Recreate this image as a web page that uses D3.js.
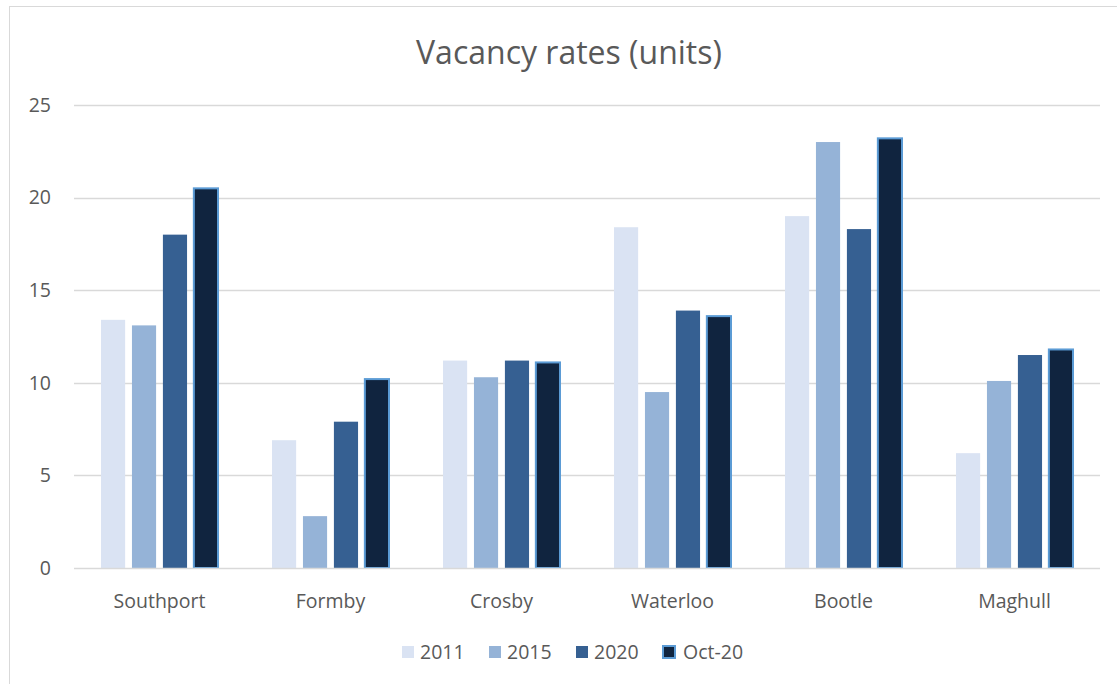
<!DOCTYPE html>
<html>
<head>
<meta charset="utf-8">
<script src="https://cdn.jsdelivr.net/npm/d3@7"></script>
<style>
  body { margin: 0; background: #fff; }
  svg { display: block; font-family: "Open Sans", "Noto Sans", sans-serif; }
</style>
</head>
<body>
<svg id="chart" width="1117" height="684"></svg>
<script>
// data
var towns = ["Southport", "Formby", "Crosby", "Waterloo", "Bootle", "Maghull"];
var seriesNames = ["2011", "2015", "2020", "Oct-20"];
var v2011 = [13.4, 6.9, 11.2, 18.4, 19.0, 6.2];
var v2015 = [13.1, 2.8, 10.3, 9.5, 23.0, 10.1];
var v2020 = [18.0, 7.9, 11.2, 13.9, 18.3, 11.5];
var vOct20 = [20.5, 10.2, 11.1, 13.6, 23.2, 11.8];
var yTicks = [0, 5, 10, 15, 20, 25];

var fills = ["#dae3f3", "#95b3d7", "#366092", "#10243f"];
var strokes = ["none", "none", "none", "#5b9bd5"];

var allSeries = [v2011, v2015, v2020, vOct20];

var svg = d3.select("#chart");
var textCol = "#595959";

// chart frame
svg.append("rect")
    .attr("x", 9.5).attr("y", 6.5)
    .attr("width", 1130).attr("height", 700)
    .attr("fill", "none")
    .attr("stroke", "#d9d9d9");

var plotL = 74, plotR = 1100, plotT = 105, plotB = 568;

var x = d3.scaleBand().domain(towns).range([plotL, plotR]).paddingInner(0).paddingOuter(0);
var xi = d3.scaleBand().domain(seriesNames).range([27, x.bandwidth() - 27]).paddingInner(0.22);
var y = d3.scaleLinear().domain([0, 25]).range([plotB, plotT]);

// gridlines
svg.append("g").selectAll("line")
    .data(yTicks.filter(function(d) { return d > 0; }))
    .enter().append("line")
    .attr("x1", plotL).attr("x2", plotR)
    .attr("y1", function(d) { return Math.round(y(d)) + 0.5; })
    .attr("y2", function(d) { return Math.round(y(d)) + 0.5; })
    .attr("stroke", "#d9d9d9").attr("stroke-width", 1.5);

// y labels
svg.append("g").selectAll("text")
    .data(yTicks).enter().append("text")
    .attr("x", 51)
    .attr("y", function(d) { return y(d); })
    .attr("dy", "0.35em")
    .attr("text-anchor", "end")
    .attr("font-size", 19.5)
    .attr("fill", textCol)
    .text(function(d) { return d; });

// bars
var groups = svg.append("g").selectAll("g")
    .data(towns).enter().append("g")
    .attr("transform", function(d) { return "translate(" + x(d) + ",0)"; });

groups.selectAll("rect")
    .data(function(t, i) {
        return seriesNames.map(function(s, j) { return { s: s, j: j, v: allSeries[j][i] }; });
    })
    .enter().append("rect")
    .attr("x", function(d) { return xi(d.s); })
    .attr("y", function(d) { return y(d.v); })
    .attr("width", xi.bandwidth())
    .attr("height", function(d) { return y(0) - y(d.v); })
    .attr("fill", function(d) { return fills[d.j]; })
    .attr("stroke", function(d) { return strokes[d.j]; })
    .attr("stroke-width", 2);

// x axis line
svg.append("line")
    .attr("x1", plotL).attr("x2", plotR)
    .attr("y1", plotB + 0.5).attr("y2", plotB + 0.5)
    .attr("stroke", "#d9d9d9").attr("stroke-width", 1.5);

// x labels
svg.append("g").selectAll("text")
    .data(towns).enter().append("text")
    .attr("x", function(d) { return x(d) + x.bandwidth() / 2; })
    .attr("y", 608)
    .attr("text-anchor", "middle")
    .attr("font-size", 19.5)
    .attr("fill", textCol)
    .text(function(d) { return d; });

// title
svg.append("text")
    .attr("x", 569).attr("y", 64)
    .attr("text-anchor", "middle")
    .attr("font-size", 32)
    .attr("fill", textCol)
    .text("Vacancy rates (units)");

// legend
var legendX = [402, 489, 576, 663];
var leg = svg.append("g").selectAll("g")
    .data(seriesNames).enter().append("g")
    .attr("transform", function(d, i) { return "translate(" + legendX[i] + ",646)"; });
leg.append("rect")
    .attr("width", 12).attr("height", 12)
    .attr("fill", function(d, i) { return fills[i]; })
    .attr("stroke", function(d, i) { return strokes[i]; })
    .attr("stroke-width", 2);
leg.append("text")
    .attr("x", function(d, i) { return i === 3 ? 20 : 18; })
    .attr("y", 6)
    .attr("dy", "0.35em")
    .attr("font-size", 19.5)
    .attr("fill", textCol)
    .text(function(d) { return d; });
</script>
</body>
</html>
